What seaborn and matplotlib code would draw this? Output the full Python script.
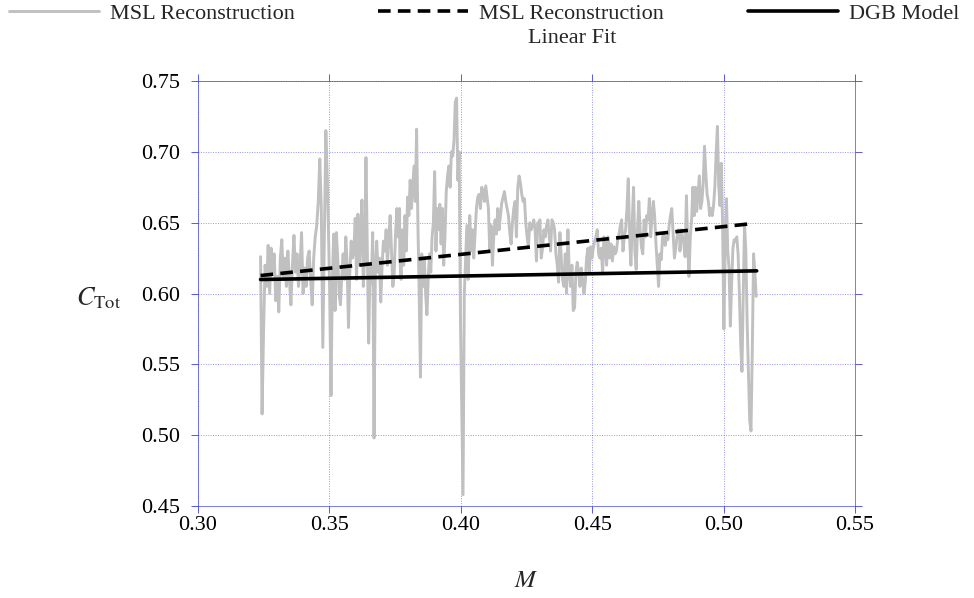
import numpy as np
import pandas as pd
import matplotlib
matplotlib.use("Agg")
import matplotlib.pyplot as plt
import seaborn as sns

# MSL reconstruction in seven pieces (M start, M end, values)
seg_m = [(0.3238, 0.3498), (0.3501, 0.3767), (0.3768, 0.4033), (0.4034, 0.4298),
         (0.4301, 0.4565), (0.4567, 0.4833), (0.4834, 0.5124)]
msl_1 = [0.626, 0.515, 0.575, 0.620, 0.605, 0.634, 0.600, 0.632, 0.615, 0.628, 0.595,
         0.612, 0.587, 0.625, 0.638, 0.610, 0.625, 0.605, 0.630, 0.610, 0.592, 0.620,
         0.641, 0.615, 0.628, 0.605, 0.620, 0.643, 0.600, 0.618, 0.605, 0.625, 0.630,
         0.610, 0.592, 0.625, 0.640, 0.648, 0.665, 0.695, 0.660, 0.562, 0.640, 0.715,
         0.680, 0.630]
msl_2 = [0.600, 0.528, 0.610, 0.642, 0.588, 0.643, 0.625, 0.600, 0.592, 0.612, 0.628,
         0.610, 0.640, 0.620, 0.576, 0.615, 0.637, 0.625, 0.630, 0.653, 0.610, 0.656,
         0.620, 0.640, 0.666, 0.605, 0.625, 0.696, 0.630, 0.565, 0.620, 0.607, 0.643,
         0.498, 0.620, 0.637, 0.615, 0.625, 0.594, 0.620, 0.637, 0.630, 0.645, 0.620,
         0.640, 0.655, 0.630, 0.605, 0.615, 0.642, 0.660, 0.640, 0.660]
msl_3 = [0.625, 0.610, 0.645, 0.620, 0.655, 0.630, 0.668, 0.655, 0.680, 0.660, 0.675,
         0.690, 0.665, 0.716, 0.650, 0.600, 0.541, 0.628, 0.605, 0.625, 0.600, 0.585,
         0.610, 0.628, 0.615, 0.640, 0.650, 0.686, 0.630, 0.660, 0.645, 0.663, 0.635,
         0.660, 0.620, 0.640, 0.672, 0.683, 0.690, 0.675, 0.700, 0.697, 0.708, 0.735,
         0.738, 0.680, 0.700, 0.582, 0.520, 0.458, 0.600, 0.625, 0.648, 0.610, 0.645]
msl_4 = [0.655, 0.630, 0.645, 0.625, 0.642, 0.660, 0.668, 0.670, 0.660, 0.675, 0.672,
         0.665, 0.676, 0.668, 0.660, 0.630, 0.648, 0.620, 0.640, 0.652, 0.642, 0.660,
         0.645, 0.655, 0.664, 0.668, 0.672, 0.665, 0.660, 0.655, 0.643, 0.635, 0.650,
         0.660, 0.665, 0.640, 0.675, 0.683, 0.678, 0.670, 0.665, 0.667, 0.650, 0.640,
         0.633, 0.650, 0.645, 0.648, 0.652, 0.645, 0.623, 0.650, 0.647]
msl_5 = [0.652, 0.625, 0.632, 0.645, 0.640, 0.648, 0.652, 0.640, 0.630, 0.652, 0.650,
         0.645, 0.628, 0.620, 0.608, 0.643, 0.625, 0.610, 0.605, 0.628, 0.600, 0.645,
         0.615, 0.605, 0.620, 0.588, 0.590, 0.615, 0.622, 0.615, 0.605, 0.618, 0.610,
         0.600, 0.608, 0.625, 0.632, 0.615, 0.633, 0.625, 0.632, 0.637, 0.640, 0.645,
         0.628, 0.625, 0.632, 0.614, 0.640, 0.635, 0.620, 0.640, 0.632]
msl_6 = [0.625, 0.635, 0.623, 0.633, 0.628, 0.630, 0.638, 0.642, 0.648, 0.652, 0.630,
         0.640, 0.645, 0.660, 0.681, 0.640, 0.620, 0.650, 0.675, 0.630, 0.617, 0.645,
         0.665, 0.645, 0.633, 0.628, 0.652, 0.640, 0.655, 0.652, 0.667, 0.640, 0.655,
         0.665, 0.655, 0.635, 0.620, 0.605, 0.628, 0.624, 0.640, 0.642, 0.634, 0.640,
         0.638, 0.648, 0.655, 0.660, 0.642, 0.625, 0.632, 0.640, 0.645, 0.642]
msl_7 = [0.630, 0.645, 0.640, 0.635, 0.626, 0.669, 0.635, 0.612, 0.640, 0.652, 0.675,
         0.655, 0.675, 0.658, 0.670, 0.683, 0.660, 0.665, 0.678, 0.704, 0.685, 0.670,
         0.665, 0.655, 0.660, 0.655, 0.662, 0.675, 0.699, 0.718, 0.676, 0.662, 0.692,
         0.650, 0.575, 0.630, 0.667, 0.630, 0.618, 0.577, 0.607, 0.632, 0.638, 0.637,
         0.640, 0.628, 0.600, 0.565, 0.545, 0.600, 0.649, 0.630, 0.580, 0.545, 0.510,
         0.503, 0.560, 0.628, 0.615, 0.598]
msl_segments = [msl_1, msl_2, msl_3, msl_4, msl_5, msl_6, msl_7]

# straight lines: end points
fit_m = [0.3238, 0.5090]
fit_c = [0.6127, 0.6490]
dgb_m = [0.3238, 0.5126]
dgb_c = [0.6099, 0.6160]

x_ticks = [0.30, 0.35, 0.40, 0.45, 0.50, 0.55]
y_ticks = [0.45, 0.50, 0.55, 0.60, 0.65, 0.70, 0.75]

msl_m = np.concatenate([np.linspace(a, b, len(v)) for (a, b), v in zip(seg_m, msl_segments)])
msl_c = np.concatenate(msl_segments)
df_msl = pd.DataFrame({"M": msl_m, "C": msl_c})

sns.set_theme(style="white")
plt.rcParams["font.family"] = ["Liberation Serif", "DejaVu Serif"]
plt.rcParams["mathtext.fontset"] = "stix"

blue = "#3a3aff"
fig = plt.figure(figsize=(9.74, 5.98), dpi=100)
ax = fig.add_axes([0.2033, 0.1538, 0.6745, 0.7107])

sns.lineplot(data=df_msl, x="M", y="C", ax=ax, color="#c0c0c0", lw=2.1,
             label="MSL Reconstruction", sort=False)
sns.lineplot(x=fit_m, y=fit_c, ax=ax, color="black", lw=2.6,
             label="MSL Reconstruction", dashes=False, linestyle=(0, (3.5, 2.0)))
sns.lineplot(x=dgb_m, y=dgb_c, ax=ax, color="black", lw=2.6, label="DGB Model")
ax.get_legend().remove()

ax.set_xlim(0.30, 0.55)
ax.set_ylim(0.45, 0.75)
ax.set_xticks(x_ticks)
ax.set_yticks(y_ticks)
ax.set_xticklabels([f"{t:.2f}" for t in x_ticks])
ax.set_yticklabels([f"{t:.2f}" for t in y_ticks])
ax.tick_params(axis="both", which="both", direction="out", length=5, width=0.6,
               color=blue, labelsize=16, labelcolor="black",
               top=True, right=True, bottom=True, left=True)
ax.tick_params(axis="y", pad=8)
ax.tick_params(axis="x", pad=2)
ax.grid(True, color=blue, alpha=0.55, linestyle=(0, (1, 1.5)), linewidth=0.7)
for s in ax.spines.values():
    s.set_color(blue)
    s.set_linewidth(0.6)
    s.set_alpha(0.8)

ax.set_xlabel("$M$", fontsize=18)
ax.xaxis.set_label_coords(0.5, -0.15)
ax.set_ylabel(r"$C_{\mathrm{Tot}}$", fontsize=19, rotation=0, ha="right", va="center")
ax.yaxis.set_label_coords(-0.117, 0.49)

handles, labels = ax.get_legend_handles_labels()
leg = fig.legend(handles, labels, loc="upper center", bbox_to_anchor=(0.497, 1.009),
                 ncol=3, frameon=False, fontsize=16, handlelength=4.05,
                 handletextpad=0.5, columnspacing=3.75, borderaxespad=0.0)

fig.canvas.draw()
bb = leg.get_texts()[1].get_window_extent()
inv = fig.transFigure.inverted()
(x0, y0), (x1, y1) = inv.transform([[bb.x0, bb.y0], [bb.x1, bb.y1]])
fig.text((x0 + x1) / 2, y0 - 0.008, "Linear Fit", ha="center", va="top", fontsize=16)

fig.savefig("out.png", dpi=100)
